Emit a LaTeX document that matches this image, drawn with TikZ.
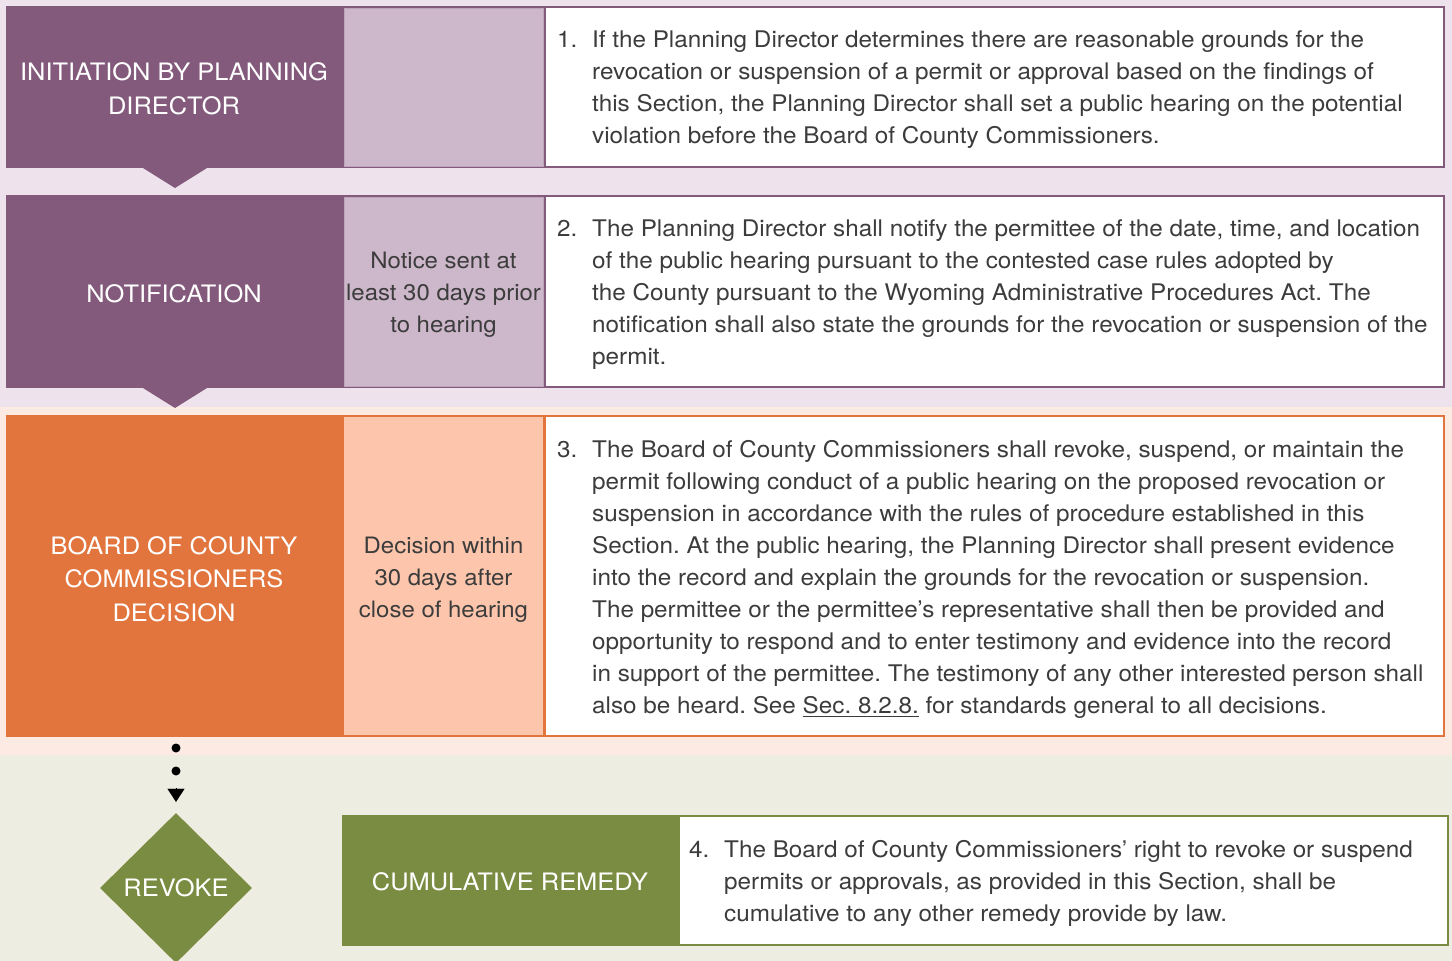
\documentclass[tikz,border=0pt]{standalone}
\usepackage{fontspec}
\setmainfont{TeX Gyre Heros}[FakeStretch=1.06]
\usetikzlibrary{shapes.geometric,arrows.meta,calc}
\definecolor{pdark}{HTML}{845A7C}
\definecolor{plight}{HTML}{CDB7CA}
\definecolor{pbg}{HTML}{EEE3EC}
\definecolor{odark}{HTML}{E2743D}
\definecolor{olight}{HTML}{FDC6AC}
\definecolor{obg}{HTML}{FDEBE3}
\definecolor{gdark}{HTML}{7A8C42}
\definecolor{gbg}{HTML}{EEEDE2}
\definecolor{txt}{HTML}{3C3C3C}
\frenchspacing
\tikzset{
  rowbox/.style={rectangle, inner sep=0pt, outer sep=0pt},
  cell/.style={rectangle, inner sep=0pt, outer sep=0pt},
  lab/.style={text=white, align=center, inner sep=0pt, yshift=-2pt, font=\fontsize{24}{33.5}\selectfont},
  mid/.style={text=txt, align=center, inner sep=0pt, yshift=-2.5pt, font=\fontsize{22.6}{32}\selectfont},
  body/.style={text=txt, inner sep=0pt, anchor=west, yshift=-2.5pt, font=\fontsize{22.9}{32}\selectfont},
}
\newcommand{\steptext}[2]{\begin{tabular}{@{}p{35pt}@{}l@{}}#1&#2\end{tabular}}
\begin{document}
\begin{tikzpicture}[x=1pt,y=-1pt]
\useasboundingbox (0,0) rectangle (1452,961);
\clip (0,0) rectangle (1452,961);
% bands
\fill[pbg] (0,0) rectangle (1452,407);
\fill[obg] (0,407) rectangle (1452,755);
\fill[gbg] (0,755) rectangle (1452,961);

% ---------- row 1
\node[rowbox, fill=pdark, minimum width=1439pt, minimum height=162pt] (row1) at (725.5,87) {};
\node[cell, fill=plight, draw=plight!80!pdark, line width=0.8pt, minimum width=199pt, minimum height=158pt] (c1) at (443.5,87) {};
\node[cell, fill=white, minimum width=897pt, minimum height=158pt] (w1) at (994.5,87) {};
\node[lab] (l1) at (174,87) {INITIATION BY PLANNING\\DIRECTOR};
\node[body] (t1) at (557,87) {\steptext{1.}{If the Planning Director determines there are reasonable grounds for the\\
 & revocation or suspension of a permit or approval based on the findings of\\
 & this Section, the Planning Director shall set a public hearing on the potential\\
 & violation before the Board of County Commissioners.}};
\fill[pdark] ($(row1.south -| 175,0)+(-32,0)$) -- ($(row1.south -| 175,0)+(32,0)$) -- ($(row1.south -| 175,0)+(0,20)$) -- cycle;

% ---------- row 2
\node[rowbox, fill=pdark, minimum width=1439pt, minimum height=193pt] (row2) at (725.5,291.5) {};
\node[cell, fill=plight, draw=plight!80!pdark, line width=0.8pt, minimum width=199pt, minimum height=189pt] (c2) at (443.5,291.5) {};
\node[cell, fill=white, minimum width=897pt, minimum height=189pt] (w2) at (994.5,291.5) {};
\node[lab] (l2) at (174,291.5) {NOTIFICATION};
\node[mid] (m2) at (443.5,292) {Notice sent at\\least 30 days prior\\to hearing};
\node[body] (t2) at (557,291.5) {\steptext{2.}{The Planning Director shall notify the permittee of the date, time, and location\\
 & of the public hearing pursuant to the contested case rules adopted by\\
 & the County pursuant to the Wyoming Administrative Procedures Act. The\\
 & notification shall also state the grounds for the revocation or suspension of the\\
 & permit.}};
\fill[pdark] ($(row2.south -| 175,0)+(-32,0)$) -- ($(row2.south -| 175,0)+(32,0)$) -- ($(row2.south -| 175,0)+(0,20)$) -- cycle;

% ---------- row 3
\node[rowbox, fill=odark, minimum width=1439pt, minimum height=322pt] (row3) at (725.5,576) {};
\node[cell, fill=olight, minimum width=199pt, minimum height=318pt] (c3) at (443.5,576) {};
\node[cell, fill=white, minimum width=897pt, minimum height=318pt] (w3) at (994.5,576) {};
\node[lab] (l3) at (174,577) {BOARD OF COUNTY\\COMMISSIONERS\\DECISION};
\node[mid] (m3) at (443.5,577) {Decision within\\30 days after\\close of hearing};
\node[body] (t3) at (557,577) {\steptext{3.}{The Board of County Commissioners shall revoke, suspend, or maintain the\\
 & permit following conduct of a public hearing on the proposed revocation or\\
 & suspension in accordance with the rules of procedure established in this\\
 & Section. At the public hearing, the Planning Director shall present evidence\\
 & into the record and explain the grounds for the revocation or suspension.\\
 & The permittee or the permittee’s representative shall then be provided and\\
 & opportunity to respond and to enter testimony and evidence into the record\\
 & in support of the permittee. The testimony of any other interested person shall\\
 & also be heard. See \underline{Sec. 8.2.8.} for standards general to all decisions.}};

% ---------- row 4
\node[diamond, shape aspect=1, fill=gdark, inner sep=0pt, minimum width=152pt, minimum height=150pt, text=white, font=\fontsize{24}{28}\selectfont] (revoke) at (176,888) {REVOKE};
\node[rowbox, fill=gdark, minimum width=1107pt, minimum height=131pt] (row4) at (895.5,880.5) {};
\node[cell, fill=white, minimum width=767pt, minimum height=127pt] (w4) at (1063.5,880.5) {};
\node[lab] (l4) at (510,880) {CUMULATIVE REMEDY};
\node[body] (t4) at (689,881) {\steptext{4.}{The Board of County Commissioners’ right to revoke or suspend\\
 & permits or approvals, as provided in this Section, shall be\\
 & cumulative to any other remedy provide by law.}};

% ---------- dotted connector
\coordinate (d1) at (176,748);
\coordinate (d2) at (176,771);
\fill[black] (d1) circle (4.5pt);
\fill[black] (d2) circle (4.5pt);
\draw[line width=0.1pt, -{Triangle[width=17pt,length=13pt]}] (176,788) -- ($(revoke.north)+(0,-11)$);
\end{tikzpicture}
\end{document}
